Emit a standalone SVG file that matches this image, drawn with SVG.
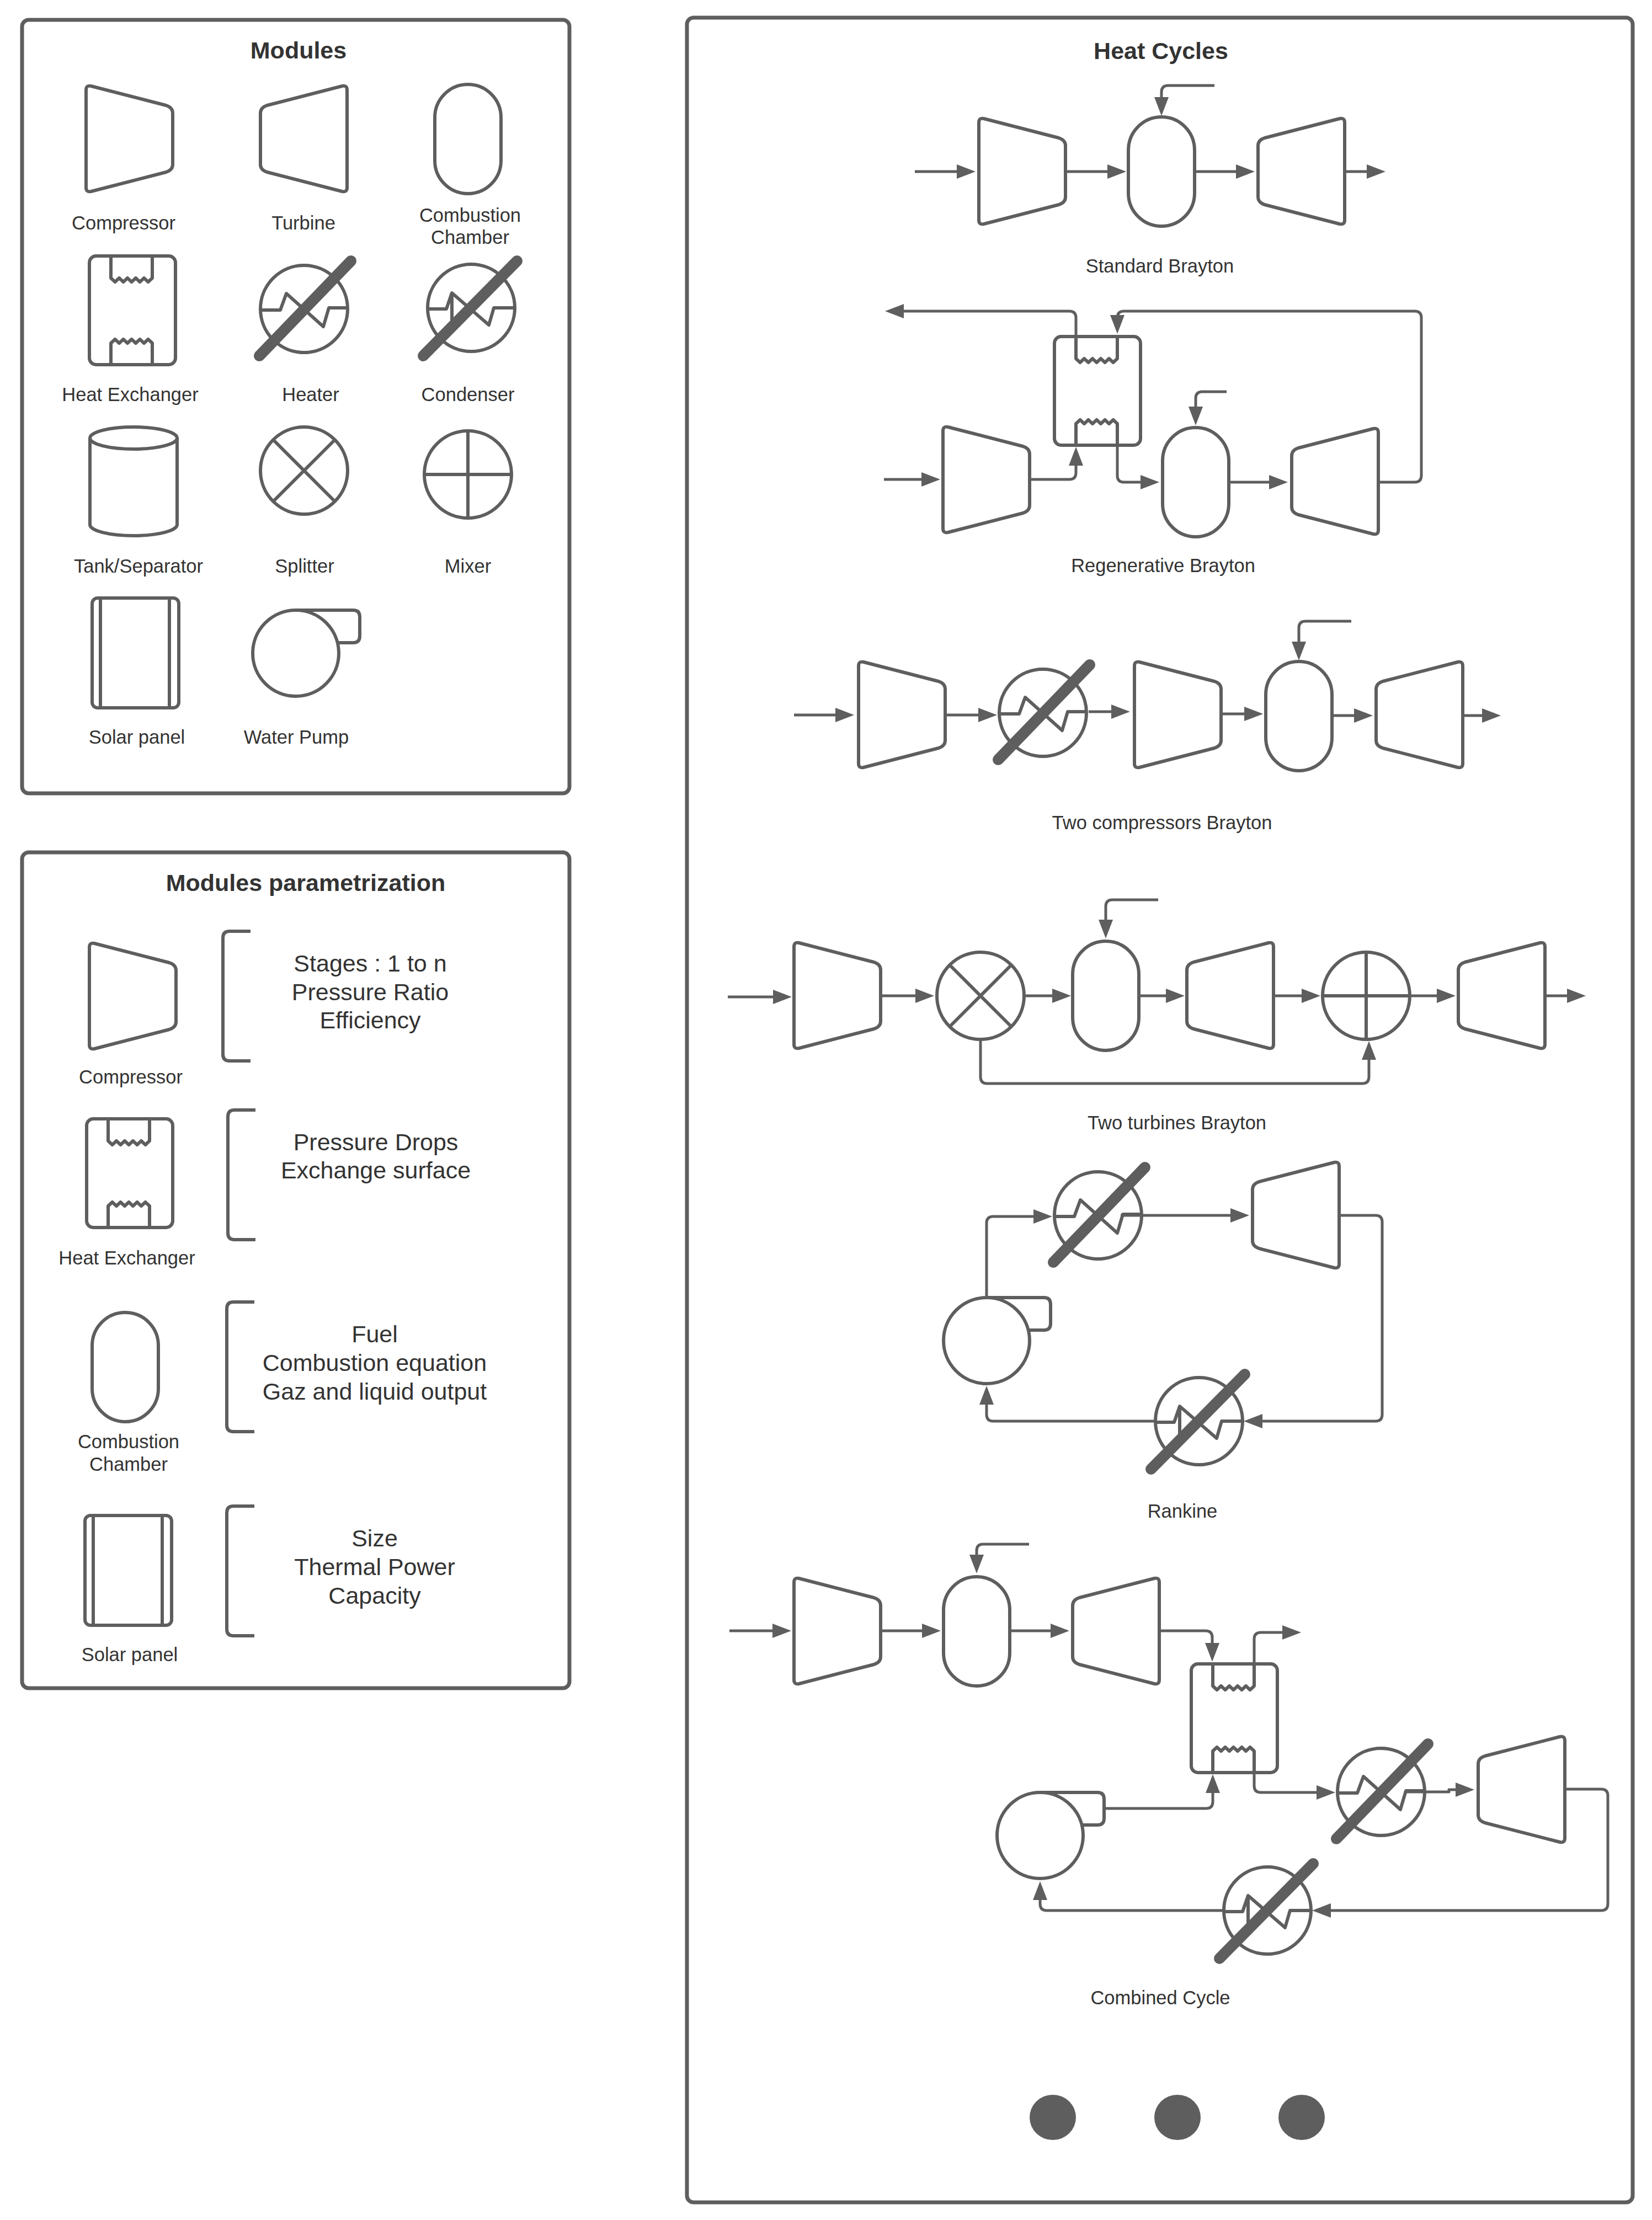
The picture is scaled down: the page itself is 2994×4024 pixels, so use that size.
<svg xmlns="http://www.w3.org/2000/svg" width="2994" height="4024" viewBox="0 0 2994 4024">
<style>
.s{fill:#fff;stroke:#5e5e5e;stroke-width:6;stroke-linejoin:round}
.n{fill:none;stroke:#5e5e5e;stroke-width:6;stroke-linejoin:round}
.b{fill:none;stroke:#5e5e5e;stroke-width:20;stroke-linecap:round}
.c{fill:none;stroke:#5e5e5e;stroke-width:5;stroke-linejoin:round;marker-end:url(#arr)}
.f{fill:none;stroke:#5e5e5e;stroke-width:7}
text{font-family:"Liberation Sans",Arial,sans-serif;fill:#333;text-anchor:middle}
.l{font-size:34.500px}
.t{font-size:43px;font-weight:bold}
.p{font-size:43px}
</style>
<defs>
<marker id="arr" markerUnits="userSpaceOnUse" markerWidth="36" markerHeight="28" refX="20" refY="13" orient="auto"><path d="M0,0L34,13L0,26Z" fill="#5e5e5e"/></marker>
<path id="compressor" class="s" d="M9,1L145,36Q157,40 157,50V143Q157,153 145,157L9,192Q0,194 0,185V8Q0,-1 9,1Z"/>
<path id="turbine" class="s" d="M148,1L12,36Q0,40 0,50V143Q0,153 12,157L148,192Q157,194 157,185V8Q157,-1 148,1Z"/>
<rect id="chamber" class="s" width="120" height="198" rx="60"/>
<g id="hx">
<rect class="s" width="156" height="197" rx="12"/>
<path class="n" d="M39,0V40L46.500,47L54,40L61.500,47L69,40L76.500,47L84,40L91.500,47L99,40L106.500,47L114,40V0"/>
<path class="n" d="M39,197V158L46.500,151L54,158L61.500,151L69,158L76.500,151L84,158L91.500,151L99,158L106.500,151L114,158V197"/>
</g>
<g id="heater">
<circle class="s" r="79"/>
<path class="n" d="M-79,2H-43L-32,-28L35,32L45,-2H79"/>
<path class="b" d="M-81,85L85,-87"/>
</g>
<g id="condenser">
<circle class="s" r="79"/>
<path class="n" d="M-79,2H-45L-35,-27V31M-35,-27L32,31L41,0H79"/>
<path class="b" d="M-87,87L83,-85"/>
</g>
<g id="splitter">
<circle class="s" r="79"/>
<path class="n" d="M-55,-55L55,55M55,-55L-55,55"/>
</g>
<g id="mixer">
<circle class="s" r="79"/>
<path class="n" d="M-79,0H79M0,-79V79"/>
</g>
<g id="pump">
<path class="s" d="M0,-78H104Q116,-78 116,-66V-31Q116,-19 104,-19H70"/>
<circle class="s" r="78"/>
</g>
<g id="tank">
<path class="s" d="M0,20V177A79,20 0 0 0 158,177V20"/>
<ellipse class="s" cx="79" cy="20" rx="79" ry="20"/>
</g>
<g id="solar">
<rect class="s" width="157" height="199" rx="10"/>
<path class="n" d="M15,0V199M140,0V199"/>
</g>
<path id="bracket" class="n" d="M50,0H12Q0,0 0,12V223Q0,235 12,235H50"/>
</defs>

<g id="frames">
<rect class="f" x="40" y="36" width="992" height="1402" rx="12"/>
<rect class="f" x="40" y="1545" width="992" height="1515" rx="12"/>
<rect class="f" x="1245" y="32" width="1714" height="3960" rx="12"/>
<text class="t" x="541" y="106">Modules</text>
<text class="t" x="554" y="1615">Modules parametrization</text>
<text class="t" x="2104" y="107">Heat Cycles</text>
</g>

<g id="modules">
<g id="m-compressor"><use href="#compressor" x="156" y="155"/><text class="l" x="224" y="416">Compressor</text></g>
<g id="m-turbine"><use href="#turbine" x="472" y="155"/><text class="l" x="550" y="416">Turbine</text></g>
<g id="m-chamber"><use href="#chamber" x="788" y="153"/><text class="l"><tspan x="852" y="402">Combustion</tspan><tspan x="852" y="442">Chamber</tspan></text></g>
<g id="m-hx"><use href="#hx" x="162" y="464"/><text class="l" x="236" y="727">Heat Exchanger</text></g>
<g id="m-heater"><use href="#heater" x="551" y="560"/><text class="l" x="563" y="727">Heater</text></g>
<g id="m-condenser"><use href="#condenser" x="854" y="558"/><text class="l" x="848" y="727">Condenser</text></g>
<g id="m-tank"><use href="#tank" x="163" y="774"/><text class="l" x="251" y="1038">Tank/Separator</text></g>
<g id="m-splitter"><use href="#splitter" x="551" y="853"/><text class="l" x="552" y="1038">Splitter</text></g>
<g id="m-mixer"><use href="#mixer" x="848" y="860"/><text class="l" x="848" y="1038">Mixer</text></g>
<g id="m-solar"><use href="#solar" x="167" y="1084"/><text class="l" x="248" y="1348">Solar panel</text></g>
<g id="m-pump"><use href="#pump" x="536" y="1184"/><text class="l" x="537" y="1348">Water Pump</text></g>
</g>

<g id="parametrization">
<g id="p-compressor"><use href="#compressor" x="162" y="1709"/><text class="l" x="237" y="1964">Compressor</text></g>
<g id="p-compressor-params"><use href="#bracket" x="404" y="1688"/><text class="p"><tspan x="671" y="1761">Stages : 1 to n</tspan><tspan x="671" y="1813">Pressure Ratio</tspan><tspan x="671" y="1864">Efficiency</tspan></text></g>
<g id="p-hx"><use href="#hx" x="157" y="2028"/><text class="l" x="230" y="2292">Heat Exchanger</text></g>
<g id="p-hx-params"><use href="#bracket" x="413" y="2012"/><text class="p"><tspan x="681" y="2085">Pressure Drops</tspan><tspan x="681" y="2136">Exchange surface</tspan></text></g>
<g id="p-chamber"><use href="#chamber" x="167" y="2379"/><text class="l"><tspan x="233" y="2625">Combustion</tspan><tspan x="233" y="2666">Chamber</tspan></text></g>
<g id="p-chamber-params"><use href="#bracket" x="411" y="2360"/><text class="p"><tspan x="679" y="2433">Fuel</tspan><tspan x="679" y="2485">Combustion equation</tspan><tspan x="679" y="2537">Gaz and liquid output</tspan></text></g>
<g id="p-solar"><use href="#solar" x="154" y="2747"/><text class="l" x="235" y="3011">Solar panel</text></g>
<g id="p-solar-params"><use href="#bracket" x="411" y="2730"/><text class="p"><tspan x="679" y="2803">Size</tspan><tspan x="679" y="2855">Thermal Power</tspan><tspan x="679" y="2907">Capacity</tspan></text></g>
</g>

<g id="cycle-standard">
<g id="s-comp"><use href="#compressor" x="1774" y="214"/></g>
<g id="s-chamber"><use href="#chamber" x="2045" y="212"/></g>
<g id="s-turb"><use href="#turbine" x="2280" y="214"/></g>
<text class="l" x="2102" y="494">Standard Brayton</text>
</g>
<g id="cycle-regenerative">
<g id="r-comp"><use href="#compressor" x="1709" y="773"/></g>
<g id="r-hx"><use href="#hx" x="1911" y="610"/></g>
<g id="r-chamber"><use href="#chamber" x="2107" y="775"/></g>
<g id="r-turb"><use href="#turbine" x="2341" y="776"/></g>
<text class="l" x="2108" y="1037">Regenerative Brayton</text>
</g>
<g id="cycle-two-compressors">
<g id="c-comp1"><use href="#compressor" x="1556" y="1199"/></g>
<g id="c-heater"><use href="#heater" x="1890" y="1292"/></g>
<g id="c-comp2"><use href="#compressor" x="2056" y="1199"/></g>
<g id="c-chamber"><use href="#chamber" x="2294" y="1199"/></g>
<g id="c-turb"><use href="#turbine" x="2494" y="1199"/></g>
<text class="l" x="2106" y="1503">Two compressors Brayton</text>
</g>
<g id="cycle-two-turbines">
<g id="t-comp"><use href="#compressor" x="1439" y="1708"/></g>
<g id="t-splitter"><use href="#splitter" x="1777" y="1805"/></g>
<g id="t-chamber"><use href="#chamber" x="1944" y="1706"/></g>
<g id="t-turb1"><use href="#turbine" x="2151" y="1708"/></g>
<g id="t-mixer"><use href="#mixer" x="2476" y="1805"/></g>
<g id="t-turb2"><use href="#turbine" x="2643" y="1708"/></g>
<text class="l" x="2133" y="2047">Two turbines Brayton</text>
</g>
<g id="cycle-rankine">
<g id="k-heater"><use href="#heater" x="1990" y="2203"/></g>
<g id="k-turb"><use href="#turbine" x="2270" y="2106"/></g>
<g id="k-pump"><use href="#pump" x="1788" y="2430"/></g>
<g id="k-cond"><use href="#condenser" x="2173" y="2576"/></g>
<text class="l" x="2143" y="2751">Rankine</text>
</g>
<g id="cycle-combined">
<g id="b-comp"><use href="#compressor" x="1439" y="2860"/></g>
<g id="b-chamber"><use href="#chamber" x="1710" y="2858"/></g>
<g id="b-turb1"><use href="#turbine" x="1944" y="2860"/></g>
<g id="b-hx"><use href="#hx" x="2159" y="3016"/></g>
<g id="b-heater"><use href="#heater" x="2503" y="3248"/></g>
<g id="b-turb2"><use href="#turbine" x="2679" y="3147"/></g>
<g id="b-pump"><use href="#pump" x="1885" y="3327"/></g>
<g id="b-cond"><use href="#condenser" x="2297" y="3463"/></g>
<text class="l" x="2103" y="3633">Combined Cycle</text>
</g>
<g id="pagination" fill="#5e5e5e">
<ellipse cx="1908" cy="3838" rx="42" ry="41"/>
<ellipse cx="2134" cy="3838" rx="42" ry="41"/>
<ellipse cx="2359" cy="3838" rx="42" ry="41"/>
</g>

<g id="connectors">
<path class="c" d="M1658,311H1754"/>
<path class="c" d="M1931,311H2027"/>
<path class="c" d="M2165,311H2260"/>
<path class="c" d="M2437,311H2497"/>
<path class="c" d="M2201,155H2117Q2105,155 2105,167V196"/>

<path class="c" d="M1602,869H1690"/>
<path class="c" d="M1866,869H1938Q1950,869 1950,857V824"/>
<path class="c" d="M2025,807V862Q2025,874 2037,874H2087"/>
<path class="c" d="M2227,874H2320"/>
<path class="c" d="M2498,874H2564Q2576,874 2576,862V576Q2576,564 2564,564H2037Q2025,564 2025,576V591"/>
<path class="c" d="M1950,610V576Q1950,564 1938,564H1618"/>
<path class="c" d="M2223,710H2179Q2167,710 2167,722V757"/>

<path class="c" d="M1439,1296H1534"/>
<path class="c" d="M1713,1296H1793"/>
<path class="c" d="M1973,1290H2034"/>
<path class="c" d="M2213,1294H2275"/>
<path class="c" d="M2414,1297H2474"/>
<path class="c" d="M2651,1297H2706"/>
<path class="c" d="M2449,1126H2366Q2354,1126 2354,1138V1183"/>

<path class="c" d="M1319,1807H1421"/>
<path class="c" d="M1596,1805H1679"/>
<path class="c" d="M1856,1805H1927"/>
<path class="c" d="M2064,1805H2133"/>
<path class="c" d="M2308,1805H2379"/>
<path class="c" d="M2555,1805H2624"/>
<path class="c" d="M2800,1805H2860"/>
<path class="c" d="M2099,1631H2016Q2004,1631 2004,1643V1687"/>
<path class="c" d="M1777,1884V1952Q1777,1964 1789,1964H2469Q2481,1964 2481,1952V1901"/>

<path class="c" d="M1788,2352V2217Q1788,2205 1800,2205H1893"/>
<path class="c" d="M2031,2203H2250"/>
<path class="c" d="M2427,2203H2493Q2505,2203 2505,2215V2564Q2505,2576 2493,2576H2268"/>
<path class="c" d="M2094,2576H1800Q1788,2576 1788,2564V2526"/>

<path class="c" d="M1322,2956H1420"/>
<path class="c" d="M1596,2956H1691"/>
<path class="c" d="M1830,2956H1924"/>
<path class="c" d="M2101,2956H2185Q2197,2956 2197,2968V2998"/>
<path class="c" d="M2273,3016V2971Q2273,2959 2285,2959H2344"/>
<path class="c" d="M1865,2799H1782Q1770,2799 1770,2811V2838"/>
<path class="c" d="M2001,3278H2186Q2198,3278 2198,3266V3230"/>
<path class="c" d="M2273,3213V3237Q2273,3249 2285,3249H2406"/>
<path class="c" d="M2549,3248H2626V3244H2658"/>
<path class="c" d="M2836,3243H2902Q2914,3243 2914,3255V3451Q2914,3463 2902,3463H2392"/>
<path class="c" d="M2218,3463H1897Q1885,3463 1885,3451V3424"/>
</g>
</svg>
